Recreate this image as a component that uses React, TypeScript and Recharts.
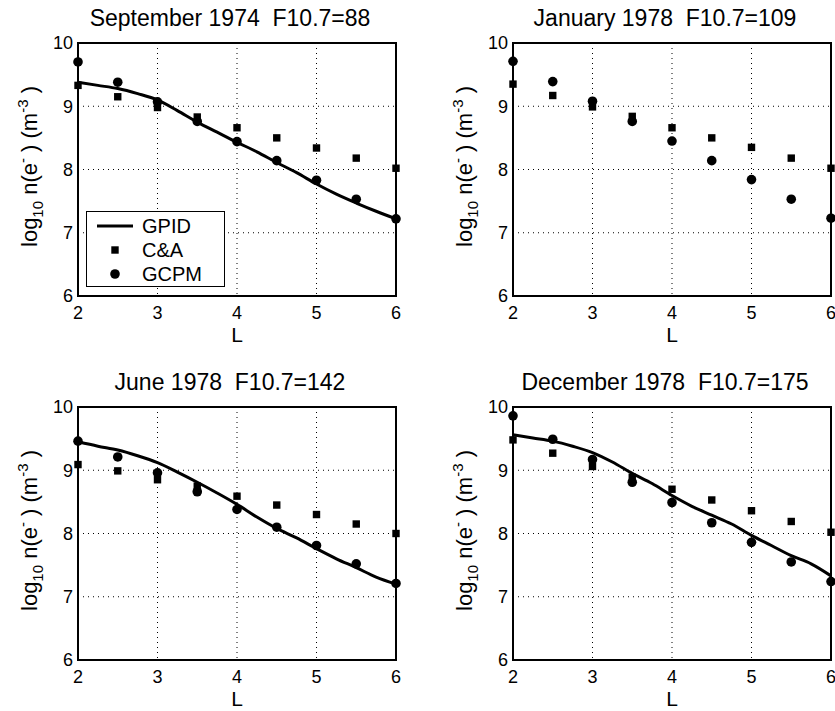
import React from 'react';
import {
  ComposedChart,
  Line,
  Scatter,
  XAxis,
  YAxis,
  CartesianGrid,
  ReferenceArea,
  Legend,
} from 'recharts';

// ---------- data ----------
const L_POINTS = [2, 2.5, 3, 3.5, 4, 4.5, 5, 5.5, 6];
const L_CURVE = [2, 2.25, 2.5, 2.75, 3, 3.25, 3.5, 3.75, 4, 4.25, 4.5, 4.75, 5, 5.25, 5.5, 5.75, 6];
const X_TICKS = [2, 3, 4, 5, 6];
const Y_TICKS = [6, 7, 8, 9, 10];

const TITLES = [
  'September 1974  F10.7=88',
  'January 1978  F10.7=109',
  'June 1978  F10.7=142',
  'December 1978  F10.7=175',
];

// September 1974
const CA_SEP74 = [9.33, 9.15, 8.98, 8.83, 8.66, 8.5, 8.34, 8.18, 8.02];
const GCPM_SEP74 = [9.7, 9.38, 9.07, 8.76, 8.44, 8.14, 7.83, 7.53, 7.22];
const GPID_SEP74 = [9.38, 9.33, 9.28, 9.2, 9.1, 8.93, 8.75, 8.59, 8.43, 8.28, 8.11, 7.95, 7.77, 7.61, 7.47, 7.34, 7.22];

// January 1978
const CA_JAN78 = [9.35, 9.17, 8.99, 8.84, 8.66, 8.5, 8.35, 8.18, 8.02];
const GCPM_JAN78 = [9.71, 9.39, 9.08, 8.76, 8.45, 8.14, 7.84, 7.53, 7.23];

// June 1978
const CA_JUN78 = [9.09, 8.99, 8.85, 8.75, 8.59, 8.45, 8.3, 8.15, 8.0];
const GCPM_JUN78 = [9.46, 9.21, 8.96, 8.66, 8.38, 8.1, 7.81, 7.52, 7.21];
const GPID_JUN78 = [9.45, 9.38, 9.32, 9.23, 9.12, 8.97, 8.81, 8.64, 8.46, 8.26, 8.08, 7.93, 7.76, 7.6, 7.46, 7.31, 7.2];

// December 1978
const CA_DEC78 = [9.48, 9.27, 9.06, 8.89, 8.7, 8.53, 8.36, 8.19, 8.02];
const GCPM_DEC78 = [9.86, 9.49, 9.17, 8.81, 8.49, 8.17, 7.86, 7.55, 7.24];
const GPID_DEC78 = [9.56, 9.51, 9.46, 9.38, 9.28, 9.13, 8.95, 8.79, 8.6, 8.43, 8.29, 8.15, 7.97, 7.81, 7.65, 7.52, 7.33];

// ---------- styling ----------
const FONT = '"Liberation Sans", Arial, Helvetica, sans-serif';
const CHART_W = 420;
const CHART_H = 355;
const TICK_FONT = 18;

const toPts = (xs: number[], ys: number[]) => xs.map((L, i) => ({ L, v: ys[i] }));

const SquareShape = (props: any) => {
  const { cx, cy } = props;
  if (cx == null || cy == null) return null;
  return <rect x={cx - 3.7} y={cy - 3.7} width={7.4} height={7.4} fill="#000" />;
};

const DotShape = (props: any) => {
  const { cx, cy } = props;
  if (cx == null || cy == null) return null;
  return <circle cx={cx} cy={cy} r={4.8} fill="#000" />;
};

const renderYLabel = (props: any) => {
  const vb = props && props.viewBox && props.viewBox.height ? props.viewBox : { x: 0, y: 43, width: 78, height: 253 };
  const cx = vb.x + 37;
  const cy = vb.y + vb.height / 2 - 3;
  return (
    <text
      transform={`translate(${cx},${cy}) rotate(-90)`}
      textAnchor="middle"
      fontSize={22}
      fontFamily={FONT}
      fill="#000"
      style={{ whiteSpace: 'pre' }}
    >
      <tspan>log</tspan>
      <tspan fontSize={15} dy={6}>10</tspan>
      <tspan dy={-6}> n(e</tspan>
      <tspan fontSize={15} dy={-9}>-</tspan>
      <tspan dy={9}> ) (m</tspan>
      <tspan fontSize={15} dy={-9}>-3</tspan>
      <tspan dy={9}> )</tspan>
    </text>
  );
};

const renderXLabel = (props: any) => {
  const vb = props && props.viewBox && props.viewBox.width ? props.viewBox : { x: 78, y: 296, width: 318, height: 59 };
  return (
    <text x={vb.x + vb.width / 2} y={vb.y + 46} textAnchor="middle" fontSize={21} fontFamily={FONT} fill="#000">
      L
    </text>
  );
};

const LegendBox = () => {
  const rows = [
    { name: 'GPID', kind: 'line' },
    { name: 'C&A', kind: 'square' },
    { name: 'GCPM', kind: 'circle' },
  ];
  return (
    <div
      style={{
        width: 139,
        height: 76,
        boxSizing: 'border-box',
        border: '1.5px solid #000',
        background: '#fff',
        position: 'relative',
        fontFamily: FONT,
        fontSize: 20,
        color: '#000',
      }}
    >
      {rows.map((r, i) => (
        <div key={r.name} style={{ position: 'absolute', left: 0, top: 1.5 + i * 24, height: 24, width: 136 }}>
          <svg width={50} height={24} style={{ position: 'absolute', left: 8, top: 0 }}>
            {r.kind === 'line' && <line x1={2} y1={12} x2={38} y2={12} stroke="#000" strokeWidth={3} />}
            {r.kind === 'square' && <rect x={20 - 3.7} y={12 - 3.7} width={7.4} height={7.4} fill="#000" />}
            {r.kind === 'circle' && <circle cx={20} cy={12} r={4.8} fill="#000" />}
          </svg>
          <span style={{ position: 'absolute', left: 55, top: 0, lineHeight: '24px', whiteSpace: 'nowrap' }}>{r.name}</span>
        </div>
      ))}
    </div>
  );
};

type PanelProps = {
  title: string;
  ca: number[];
  gcpm: number[];
  gpid?: number[] | null;
  showLegend?: boolean;
  left: number;
  top: number;
};

const Panel = ({ title, ca, gcpm, gpid, showLegend, left, top }: PanelProps) => {
  const caData = toPts(L_POINTS, ca);
  const gcpmData = toPts(L_POINTS, gcpm);
  const gpidData = gpid ? toPts(L_CURVE, gpid) : null;
  return (
    <div style={{ position: 'absolute', left, top, width: CHART_W, height: CHART_H }}>
      <ComposedChart width={CHART_W} height={CHART_H} margin={{ top: 43, right: 24, bottom: 0, left: 0 }}>
        <CartesianGrid stroke="#000" strokeDasharray="1 4" strokeWidth={1} />
        <XAxis
          type="number"
          dataKey="L"
          domain={[2, 6]}
          ticks={X_TICKS}
          interval={0}
          height={59}
          axisLine={false}
          tickLine={false}
          tickSize={0}
          tickMargin={10}
          tick={{ fill: '#000', fontSize: TICK_FONT, fontFamily: FONT }}
          label={renderXLabel}
        />
        <YAxis
          type="number"
          domain={[6, 10]}
          ticks={Y_TICKS}
          interval={0}
          width={78}
          axisLine={false}
          tickLine={false}
          tickSize={0}
          tickMargin={5}
          tick={{ fill: '#000', fontSize: TICK_FONT, fontFamily: FONT }}
          label={renderYLabel}
        />
        <ReferenceArea x1={2} x2={6} y1={6} y2={10} fill="none" fillOpacity={0} stroke="#000" strokeWidth={2} ifOverflow="visible" />
        {gpidData && (
          <Line
            data={gpidData}
            dataKey="v"
            name="GPID"
            type="monotone"
            stroke="#000"
            strokeWidth={3}
            dot={false}
            activeDot={false}
            isAnimationActive={false}
          />
        )}
        <Scatter data={caData} dataKey="v" name="C&A" shape={SquareShape} isAnimationActive={false} />
        <Scatter data={gcpmData} dataKey="v" name="GCPM" shape={DotShape} isAnimationActive={false} />
        {showLegend && (
          <Legend
            layout="vertical"
            align="center"
            verticalAlign="middle"
            wrapperStyle={{ left: 86, top: 211, width: 139, height: 76, bottom: 'auto', right: 'auto' }}
            content={() => <LegendBox />}
          />
        )}
        <text
          x={230}
          y={26}
          textAnchor="middle"
          fontSize={23}
          fontFamily={FONT}
          fill="#000"
          style={{ whiteSpace: 'pre' }}
        >
          {title}
        </text>
      </ComposedChart>
    </div>
  );
};

export default function App() {
  return (
    <div
      style={{
        position: 'absolute',
        left: 0,
        top: 0,
        width: 835,
        height: 711,
        overflow: 'hidden',
        background: '#fff',
      }}
    >
      <Panel title={TITLES[0]} ca={CA_SEP74} gcpm={GCPM_SEP74} gpid={GPID_SEP74} showLegend left={0} top={0} />
      <Panel title={TITLES[1]} ca={CA_JAN78} gcpm={GCPM_JAN78} gpid={null} left={435} top={0} />
      <Panel title={TITLES[2]} ca={CA_JUN78} gcpm={GCPM_JUN78} gpid={GPID_JUN78} left={0} top={364} />
      <Panel title={TITLES[3]} ca={CA_DEC78} gcpm={GCPM_DEC78} gpid={GPID_DEC78} left={435} top={364} />
    </div>
  );
}
